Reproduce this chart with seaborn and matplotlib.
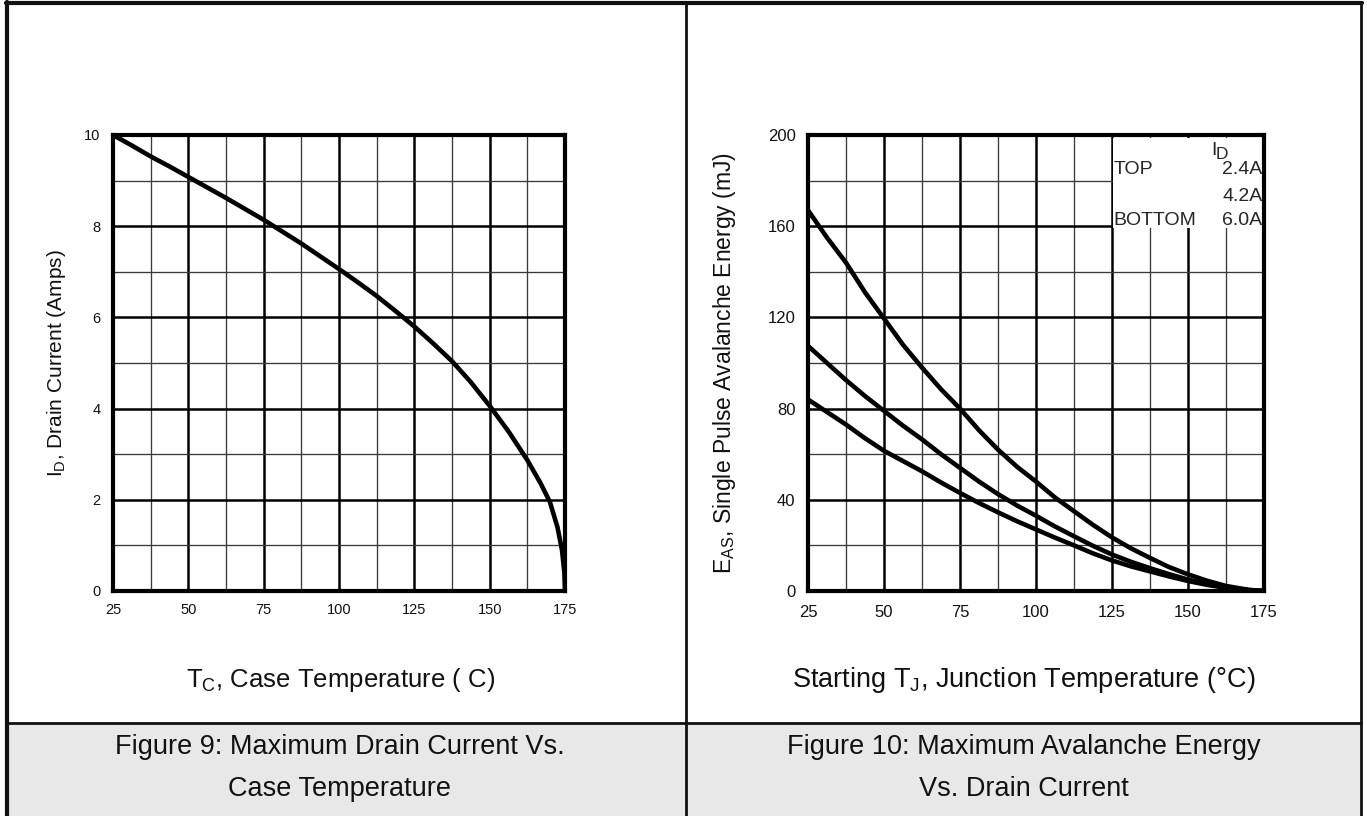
import matplotlib
matplotlib.use("Agg")
import matplotlib.pyplot as plt
import seaborn as sns
import pandas as pd
from matplotlib.lines import Line2D
from matplotlib.patches import Rectangle

# ---------------- data ----------------
temp_fig9 = [25, 31.25, 37.5, 43.75, 50, 56.25, 62.5, 68.75, 75, 81.25, 87.5, 93.75, 100, 106.25,
             112.5, 118.75, 125, 131.25, 137.5, 143.75, 150, 156.25, 162.5, 167, 170, 172.5, 174, 174.8, 175]
id_fig9 = [10.0, 9.77, 9.53, 9.31, 9.08, 8.85, 8.62, 8.38, 8.14, 7.88, 7.62, 7.34, 7.06, 6.77,
           6.47, 6.14, 5.80, 5.43, 5.04, 4.58, 4.06, 3.50, 2.87, 2.35, 1.95, 1.4, 0.9, 0.4, 0.0]

temp_fig10 = [25, 31.25, 37.5, 43.75, 50, 56.25, 62.5, 68.75, 75, 81.25, 87.5, 93.75, 100, 106.25,
              112.5, 118.75, 125, 131.25, 137.5, 143.75, 150, 156.25, 162.5, 170, 175]
eas_2_4A = [167, 155, 144, 131, 119.5, 108, 98, 88.5, 80, 70.5, 62, 54.5, 48, 41,
            35, 29, 23.5, 18.7, 14.5, 10.5, 7.3, 4.5, 2.2, 0.5, 0]
eas_4_2A = [107.5, 100, 92.5, 85.5, 79, 72.5, 66.5, 60, 54, 48, 42.5, 37.5, 33, 28.3,
            24, 19.8, 16, 12.8, 10, 7.4, 5, 3, 1.5, 0.4, 0]
eas_6_0A = [84, 78.5, 73, 67, 61.5, 57, 52.5, 47.6, 43, 38.6, 34.5, 30.6, 27, 23.4,
            20, 16.5, 13.4, 10.8, 8.6, 6.4, 4.4, 2.7, 1.4, 0.3, 0]
currents = ["2.4A", "4.2A", "6.0A"]

x_major = [25, 50, 75, 100, 125, 150, 175]
x_minor = [37.5, 62.5, 87.5, 112.5, 137.5, 162.5]
y9_major = [0, 2, 4, 6, 8, 10]
y9_minor = [1, 3, 5, 7, 9]
y10_major = [0, 40, 80, 120, 160, 200]
y10_minor = [20, 60, 100, 140, 180]

# ---------------- style ----------------
sns.set_style("white")
plt.rcParams["font.family"] = ["Liberation Sans", "DejaVu Sans"]
plt.rcParams["mathtext.fontset"] = "custom"
plt.rcParams["mathtext.rm"] = "Liberation Sans"
plt.rcParams["mathtext.it"] = "Liberation Sans:italic"
plt.rcParams["mathtext.bf"] = "Liberation Sans:bold"

W, H = 1367, 816
fig = plt.figure(figsize=(W / 100, H / 100), dpi=100)
fig.patch.set_facecolor("white")


def fx(px):
    return px / W


def fy(py):
    return 1 - py / H


# caption background
fig.patches.append(Rectangle((fx(7), 0), fx(1361) - fx(7), fy(723), transform=fig.transFigure,
                             facecolor="#e8e8e8", edgecolor="none", zorder=0))
# frame lines
frame = [
    ((7, 7), (2, 816), 3.0),
    ((6, 1362), (3, 3), 3.0),
    ((1361, 1361), (2, 816), 2.0),
    ((686, 686), (3, 816), 2.0),
    ((7, 1361), (723, 723), 2.0),
]
for (xs, ys, lw) in frame:
    fig.add_artist(Line2D([fx(xs[0]), fx(xs[1])], [fy(ys[0]), fy(ys[1])], transform=fig.transFigure,
                          color="#111111", lw=lw, zorder=1))

ax1 = fig.add_axes([fx(113), fy(591), fx(565) - fx(113), fy(135) - fy(591)])
ax2 = fig.add_axes([fx(808), fy(591), fx(1264) - fx(808), fy(135) - fy(591)])


def style_axes(ax, ymaj, ymin, tsize, xpad, ypad):
    ax.set_facecolor("white")
    ax.set_xticks(x_major)
    ax.set_xticks(x_minor, minor=True)
    ax.set_yticks(ymaj)
    ax.set_yticks(ymin, minor=True)
    ax.set_xlim(25, 175)
    ax.set_ylim(ymaj[0], ymaj[-1])
    ax.set_axisbelow(True)
    ax.grid(which="major", color="black", lw=1.8)
    ax.grid(which="minor", color="#3a3a3a", lw=0.95)
    ax.tick_params(which="both", length=0, labelsize=tsize, colors="#111111")
    ax.tick_params(axis="x", pad=xpad)
    ax.tick_params(axis="y", pad=ypad)
    for s in ax.spines.values():
        s.set_visible(True)
        s.set_color("black")
        s.set_linewidth(3.0)
        s.set_zorder(5)


style_axes(ax1, y9_major, y9_minor, 10.5, 9, 9)
style_axes(ax2, y10_major, y10_minor, 12, 10, 9)

# ---------------- Figure 9 ----------------
df9 = pd.DataFrame({"T": temp_fig9, "I": id_fig9})
sns.lineplot(data=df9, x="T", y="I", ax=ax1, color="black", lw=3.3, sort=False, zorder=3)
ax1.set_xlabel("")
ax1.set_ylabel(r"I$_\mathrm{D}$, Drain Current (Amps)", fontsize=15, color="#111111")
ax1.yaxis.set_label_coords(-0.10, 0.5)

# ---------------- Figure 10 ----------------
rows = []
for cur, vals in zip(currents, [eas_2_4A, eas_4_2A, eas_6_0A]):
    for t, v in zip(temp_fig10, vals):
        rows.append({"T": t, "E": v, "ID": cur})
df10 = pd.DataFrame(rows)
sns.lineplot(data=df10, x="T", y="E", hue="ID", ax=ax2, palette=["black"] * 3, lw=3.3,
             legend=False, zorder=3)
ax2.set_xlabel("")
ax2.set_ylabel(r"E$_\mathrm{AS}$, Single Pulse Avalanche Energy (mJ)", fontsize=16.5, color="#111111")
ax2.yaxis.set_label_coords(-0.153, 0.5)

# legend block (white box over the grid)
ax2.add_patch(Rectangle((125.45, 159.3), 175 - 125.45, 198.8 - 159.3, facecolor="white",
                        edgecolor="none", zorder=2.5))
ax2.text(157.6, 193.0, "I", fontsize=14, ha="left", va="center", zorder=4)
ax2.text(159.0, 191.6, "D", fontsize=12.5, ha="left", va="center", zorder=4)
ax2.text(125.6, 184.7, "TOP", fontsize=14, ha="left", va="center", zorder=4)
ax2.text(174.5, 184.7, currents[0], fontsize=14, ha="right", va="center", zorder=4)
ax2.text(174.5, 172.9, currents[1], fontsize=14, ha="right", va="center", zorder=4)
ax2.text(125.6, 162.4, "BOTTOM", fontsize=14, ha="left", va="center", zorder=4)
ax2.text(174.5, 162.4, currents[2], fontsize=14, ha="right", va="center", zorder=4)

# ---------------- x labels and captions ----------------
fig.text(fx(341), fy(680), r"T$_\mathrm{C}$, Case Temperature ( C)", fontsize=18.5, ha="center",
         va="center", color="#111111")
fig.text(fx(1024), fy(680), r"Starting T$_\mathrm{J}$, Junction Temperature (°C)", fontsize=19.5,
         ha="center", va="center", color="#111111")
fig.text(fx(340), fy(747), "Figure 9: Maximum Drain Current Vs.", fontsize=19.5, ha="center", va="center",
         color="#111111")
fig.text(fx(340), fy(789), "Case Temperature", fontsize=19.5, ha="center", va="center", color="#111111")
fig.text(fx(1024), fy(747), "Figure 10: Maximum Avalanche Energy", fontsize=19.5, ha="center",
         va="center", color="#111111")
fig.text(fx(1024), fy(789), "Vs. Drain Current", fontsize=19.5, ha="center", va="center", color="#111111")

fig.savefig("out.png", dpi=100)
